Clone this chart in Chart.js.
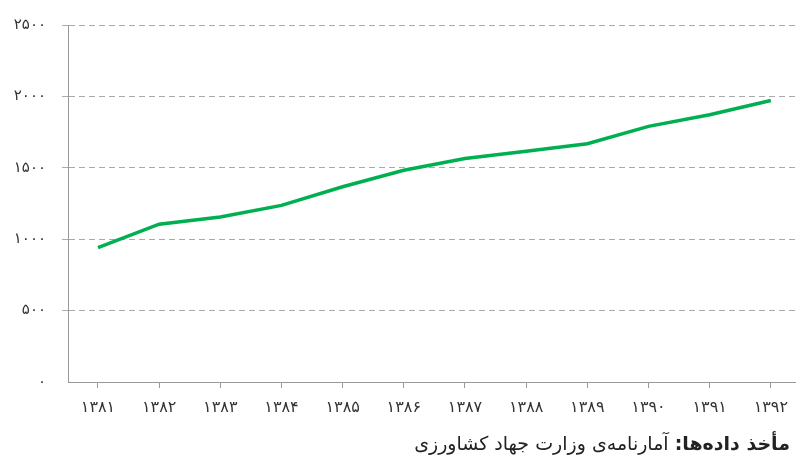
<!DOCTYPE html>
<html>
<head>
<meta charset="utf-8">
<script src="https://cdn.jsdelivr.net/npm/chart.js@4.4.1/dist/chart.umd.min.js"></script>
<style>
    html, body { margin: 0; padding: 0; background: #fff; }
    .wrap { position: relative; width: 798px; height: 462px; }
    #chart { position: absolute; left: 0; top: 0; }
    .source {
        position: absolute;
        right: 8px;
        top: 432px;
        direction: rtl;
        font-family: "DejaVu Sans", sans-serif;
        font-size: 19px;
        color: #222;
        white-space: nowrap;
    }
    .source b { font-weight: bold; }
</style>
</head>
<body>
<div class="wrap">
    <canvas id="chart" width="798" height="462"></canvas>
    <div class="source"><b>مأخذ داده‌ها:</b> آمارنامه‌ی وزارت جهاد کشاورزی</div>
</div>
<script>
// data
const years = [1381, 1382, 1383, 1384, 1385, 1386, 1387, 1388, 1389, 1390, 1391, 1392];
const values = [941, 1105, 1156, 1237, 1367, 1483, 1565, 1616, 1669, 1790, 1871, 1971];
const yTicks = [0, 500, 1000, 1500, 2000, 2500];

function toFa(n) {
    return String(n).replace(/\d/g, d => '۰۱۲۳۴۵۶۷۸۹'[d]);
}

const ctx = document.getElementById('chart').getContext('2d');

new Chart(ctx, {
    type: 'line',
    data: {
        datasets: [{
            data: years.map((y, i) => ({ x: y, y: values[i] })),
            borderColor: '#00b050',
            borderWidth: 3.5,
            pointRadius: 0,
            tension: 0,
            fill: false
        }]
    },
    options: {
        responsive: false,
        animation: false,
        layout: { padding: { top: 13, right: 0, bottom: 50, left: 0 } },
        plugins: {
            legend: { display: false },
            tooltip: { enabled: false }
        },
        scales: {
            x: {
                type: 'linear',
                min: 1380.51,
                max: 1392.41,
                afterBuildTicks: function (scale) {
                    scale.ticks = years.map(v => ({ value: v }));
                },
                afterFit: function (scale) {
                    scale.height = 30;
                },
                grid: {
                    drawOnChartArea: false,
                    drawTicks: true,
                    tickLength: 6,
                    color: '#999'
                },
                border: { color: '#999', width: 1 },
                ticks: {
                    autoSkip: false,
                    maxRotation: 0,
                    padding: 10,
                    color: '#333',
                    font: { family: 'DejaVu Sans', size: 16 },
                    callback: function (value) {
                        return toFa(value);
                    }
                }
            },
            y: {
                min: 0,
                max: 2500,
                afterBuildTicks: function (scale) {
                    scale.ticks = yTicks.map(v => ({ value: v }));
                },
                afterFit: function (scale) {
                    scale.width = 68;
                },
                grid: {
                    drawTicks: true,
                    tickLength: 6,
                    color: function (c) {
                        return c.tick && c.tick.value === 0 ? 'rgba(0,0,0,0)' : '#aaa';
                    }
                },
                border: { color: '#999', width: 1, dash: [6, 4] },
                ticks: {
                    padding: 16,
                    color: '#333',
                    font: { family: 'DejaVu Sans', size: 15 },
                    callback: function (value) {
                        return toFa(value);
                    }
                }
            }
        }
    }
});
</script>
</body>
</html>
